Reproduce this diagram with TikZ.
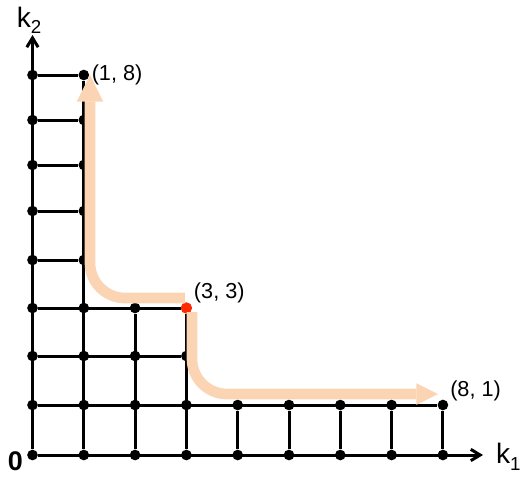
\documentclass[tikz,border=0pt]{standalone}
\usepackage{fontspec}
\setmainfont{Liberation Sans}
\usetikzlibrary{arrows.meta,positioning}
\definecolor{peach}{HTML}{FAD4B3}
\definecolor{hotred}{HTML}{FF2A00}
\tikzset{
  dot/.style      = {circle, fill=black, inner sep=0pt, minimum size=3.2mm},
  reddot/.style   = {dot, fill=hotred, minimum size=3.4mm},
  gridline/.style = {line width=0.9mm},
  axis/.style     = {line width=0.9mm, -{Straight Barb[length=2.8mm,width=3.4mm]}},
  bigarrow/.style = {draw=peach, line width=3.2mm, rounded corners=10.5mm},
  coordlbl/.style = {font=\fontsize{18.5}{22}\selectfont, inner sep=1pt},
  axislbl/.style  = {font=\fontsize{24}{28}\selectfont, inner sep=1pt},
}
\newcommand{\axsub}[1]{\raisebox{-1.9mm}{\fontsize{16}{18}\selectfont #1}}

\begin{document}
\begin{tikzpicture}[x=0.3mm, y=-0.3mm]
  \useasboundingbox (0,0) rectangle (527,479);
  % lattice points: row / height / last column
  \foreach \j/\yy/\m in {0/455/8,1/405/8,2/356/3,3/308/3,4/260/1,5/211/1,6/165/1,7/120/1,8/75/1}
    \foreach \i in {0,...,\m}
      \node[dot] (g-\i-\j) at ({32.5+51.3*\i},\yy) {};

  % axes
  \coordinate (xtip) at (483,455);
  \coordinate (ytip) at (32.5,35);
  \draw[axis] (g-0-0) -- (xtip);
  \draw[axis] (g-0-0) -- (ytip);

  % rows and columns
  \foreach \j/\m in {1/8,2/3,3/3,4/1,5/1,6/1,7/1,8/1}
    \draw[gridline] (g-0-\j) -- (g-\m-\j);
  \foreach \i/\t in {1/8,2/3,3/3,4/1,5/1,6/1,7/1,8/1}
    \draw[gridline] (g-\i-0) -- (g-\i-\t);

  \node[reddot] (turn) at (g-3-3) {};

  % the two bent arrows
  \coordinate (a1s) at (185,298);
  \coordinate (a1c) at (90,298);
  \coordinate (a1e) at (90,75);
  \draw[bigarrow, -{Triangle[width=8mm,length=8mm,line width=0pt]}] (a1s) -- (a1c) -- (a1e);
  \coordinate (a2s) at (192,312);
  \coordinate (a2c) at (192,394);
  \coordinate (a2e) at (438,394);
  \draw[bigarrow, -{Triangle[width=6.5mm,length=6.5mm,line width=0pt]}] (a2s) -- (a2c) -- (a2e);

  % labels
  \node[coordlbl, right=0.3mm of g-1-8] (l18) {(1, 8)};
  \node[coordlbl, above right=-0.3mm and 0.6mm of turn] (l33) {(3, 3)};
  \node[coordlbl, above right=-0.3mm and 0.6mm of g-8-1] (l81) {(8, 1)};
  \node[font=\fontsize{23}{27}\selectfont\bfseries, left=0mm of g-0-0, yshift=-2mm] (zero) {0};
  \node[axislbl, above=0mm of ytip, xshift=-1mm] (k2) {k\axsub{2}};
  \node[axislbl, right=3.5mm of xtip, yshift=-0.5mm] (k1) {k\axsub{1}};
\end{tikzpicture}
\end{document}
